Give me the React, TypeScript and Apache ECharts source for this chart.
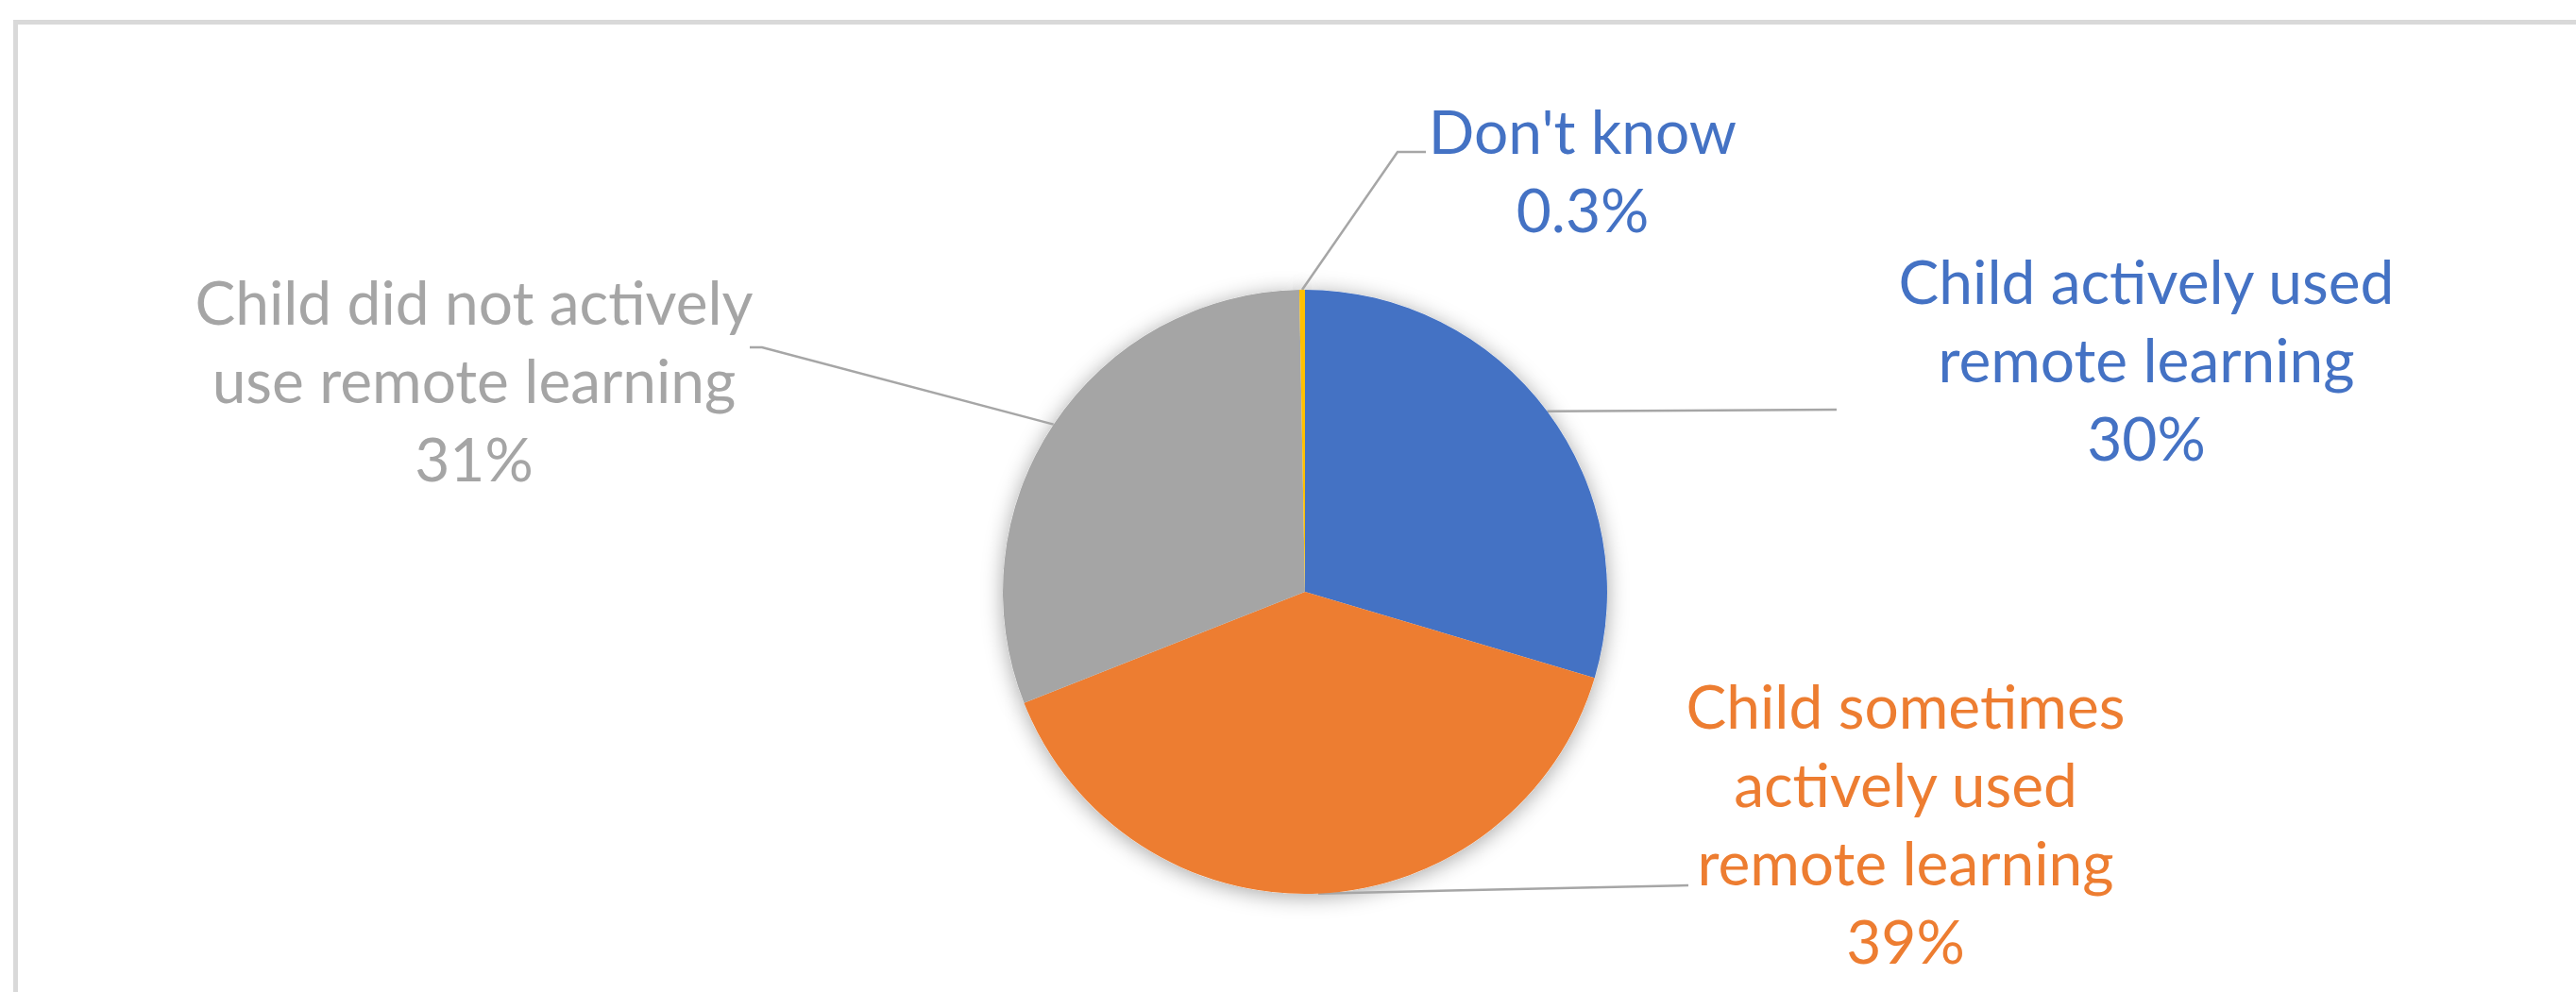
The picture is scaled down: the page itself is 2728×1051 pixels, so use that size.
import React, { useEffect, useRef } from "react";
import * as echarts from "echarts";

// ---- data ----
const categories = [
  "Child actively used\nremote learning",
  "Child sometimes\nactively used\nremote learning",
  "Child did not actively\nuse remote learning",
  "Don't know",
];
const values = [29.6, 39.4, 30.7, 0.3];
const sliceColors = ["#4472C4", "#ED7D31", "#A5A5A5", "#FFC000"];
const labelColors = ["#4472C4", "#ED7D31", "#A5A5A5", "#4472C4"];

// ---- layout (label placement, leader elbows) ----
const labelCenters = [
  [2273, 380],
  [2018, 872],
  [502, 402],
  [1676, 180],
];
const leaderBends = [
  [[1945, 434]],
  [[1788, 938]],
  [[807, 368], [794, 368]],
  [[1480, 161], [1510, 161]],
];

const PIE_CENTER = [1382, 627];
const PIE_RADIUS = 320;
const FONT = "Lato, 'Open Sans', sans-serif";

function fmtPct(v: number) {
  return v >= 1 ? Math.round(v) + "%" : v.toFixed(1) + "%";
}

export default function App() {
  const ref = useRef<HTMLDivElement>(null);
  useEffect(() => {
    if (!ref.current) return;
    const chart = echarts.init(ref.current, undefined, { renderer: "svg" });
    const data = categories.map((name, i) => ({
      name,
      value: values[i],
      itemStyle: { color: sliceColors[i] },
      label: { color: labelColors[i] },
    }));
    chart.setOption({
      animation: false,
      backgroundColor: "#ffffff",
      graphic: [
        {
          type: "rect",
          shape: { x: 16.5, y: 23.5, width: 2800, height: 1100 },
          style: { fill: "none", stroke: "#d9d9d9", lineWidth: 5 },
          silent: true,
          z: 0,
        },
      ],
      series: [
        {
          type: "pie",
          name: "shadow",
          silent: true,
          z: 1,
          center: PIE_CENTER,
          radius: PIE_RADIUS,
          startAngle: 90,
          clockwise: true,
          data: values.map((v) => ({ value: v })),
          label: { show: false },
          labelLine: { show: false },
          itemStyle: {
            color: "#ffffff",
            shadowBlur: 22,
            shadowColor: "rgba(0,0,0,0.35)",
            shadowOffsetY: 3,
          },
        },
        {
          type: "pie",
          name: "Remote learning",
          z: 2,
          center: PIE_CENTER,
          radius: PIE_RADIUS,
          startAngle: 90,
          clockwise: true,
          avoidLabelOverlap: false,
          data,
          label: {
            show: true,
            position: "outside",
            fontFamily: FONT,
            fontSize: 64,
            lineHeight: 83,
            align: "center",
            formatter: (p: any) => `${p.name}\n${fmtPct(p.value)}`,
          },
          labelLine: {
            show: true,
            length: 20,
            length2: 20,
            lineStyle: { color: "#a6a6a6", width: 2.5 },
          },
          labelLayout: (params: any) => {
            const i = params.dataIndex;
            const pts = params.labelLinePoints;
            const out: any = {
              x: labelCenters[i][0],
              y: labelCenters[i][1],
              align: "center",
              verticalAlign: "middle",
            };
            if (pts && pts.length) {
              out.labelLinePoints = [pts[0], ...leaderBends[i]];
            }
            return out;
          },
          emphasis: { disabled: true },
        },
      ],
    });
    return () => chart.dispose();
  }, []);
  return (
    <div
      ref={ref}
      style={{ position: "absolute", left: 0, top: 0, width: 2728, height: 1051 }}
    />
  );
}
